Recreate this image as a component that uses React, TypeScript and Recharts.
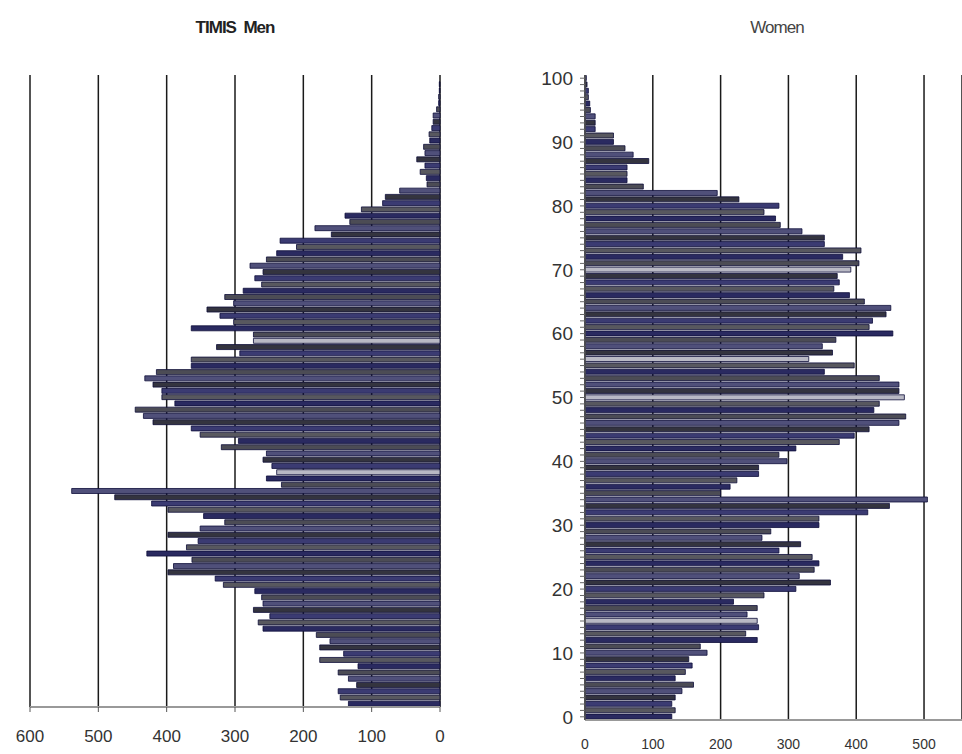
import { BarChart, Bar, XAxis, YAxis, CartesianGrid, Cell } from "recharts";

// single years of age, bottom (0) to top (100)
const AGES = Array.from({ length: 101 }, (_, i) => i);

// persons per single year of age
const MEN = [
  134, 146, 149, 122, 134, 149, 120, 176, 141, 176,
  161, 181, 259, 266, 249, 273, 259, 261, 271, 317,
  329, 398, 390, 363, 429, 371, 354, 398, 351, 315,
  346, 398, 422, 476, 539, 232, 254, 239, 246, 259,
  254, 320, 295, 351, 364, 420, 434, 446, 388, 407,
  407, 420, 432, 415, 364, 364, 293, 327, 273, 273,
  364, 302, 322, 341, 302, 315, 288, 261, 271, 259,
  278, 254, 239, 210, 234, 159, 183, 132, 139, 115,
  84, 80, 59, 19, 20, 29, 22, 34, 22, 24,
  15, 16, 12, 10, 10, 5, 2, 2, 1, 1,
  0,
];

const WOMEN = [
  128, 133, 128, 133, 143, 160, 133, 148, 158, 153,
  180, 170, 254, 237, 256, 254, 239, 254, 219, 264,
  311, 362, 316, 338, 345, 335, 286, 318, 261, 274,
  345, 345, 417, 449, 505, 200, 214, 224, 256, 256,
  298, 286, 311, 375, 397, 419, 463, 473, 426, 434,
  471, 463, 463, 434, 353, 397, 330, 365, 350, 370,
  454, 419, 424, 444, 451, 412, 390, 367, 375, 372,
  392, 404, 380, 407, 353, 353, 320, 288, 281, 264,
  286, 227, 195, 86, 62, 62, 62, 94, 71, 59,
  42, 42, 15, 15, 15, 8, 7, 5, 5, 3,
  2,
];

const MEN_TICKS = [0, 100, 200, 300, 400, 500, 600];
const WOMEN_TICKS = [0, 100, 200, 300, 400, 500];

// rows that come out pale in the scan
const LIGHT_MEN = [58, 37];
const LIGHT_WOMEN = [70, 56, 50, 15];

const FILLS = ["#2a2a60", "#58585f", "#3b3b72", "#34343f", "#50507a", "#4c4c55"];
const FONT = '"Liberation Sans", Arial, sans-serif';

const menData = AGES.map((age, i) => ({ age, value: MEN[i] }));
const womenData = AGES.map((age, i) => ({ age, value: WOMEN[i] }));

const fillFor = (age: number, light: number[]) =>
  light.includes(age) ? "#b9b9c4" : FILLS[age % FILLS.length];

const MenTick = (props: any) => {
  const { x, y, payload } = props;
  return (
    <text x={x} y={y} dy="0.71em" textAnchor="middle" fontSize={17} fill="#333" fontFamily={FONT}>
      {payload.value}
    </text>
  );
};

const WomenTick = (props: any) => {
  const { x, y, payload } = props;
  return (
    <text x={x} y={y} dy="0.71em" textAnchor="middle" fontSize={14} fill="#333" fontFamily={FONT}>
      {payload.value}
    </text>
  );
};

const AgeTick = (props: any) => {
  const { x, y, payload } = props;
  if (payload.value % 10 !== 0) return <g />;
  return (
    <text x={x} y={y} dy="0.36em" textAnchor="end" fontSize={19} fill="#333" fontFamily={FONT}>
      {payload.value}
    </text>
  );
};

const titleStyle = {
  position: "absolute" as const,
  top: 18,
  width: 200,
  textAlign: "center" as const,
  fontFamily: FONT,
  fontSize: 17,
  letterSpacing: -1,
  color: "#222",
};

export default function App() {
  return (
    <div
      style={{
        position: "absolute",
        left: 0,
        top: 0,
        width: 962,
        height: 754,
        overflow: "hidden",
        background: "#fff",
      }}
    >
      <div style={{ ...titleStyle, left: 135, fontWeight: "bold" }}>TIMIS&nbsp; Men</div>
      <div style={{ ...titleStyle, left: 677, color: "#444" }}>Women</div>

      <div style={{ position: "absolute", left: 0, top: 0 }}>
        <BarChart
          width={460}
          height={754}
          data={menData}
          layout="vertical"
          margin={{ top: 75, right: 20, bottom: 7, left: 30 }}
          barCategoryGap="8%"
        >
          <CartesianGrid horizontal={false} stroke="#1a1a1a" strokeWidth={1.5} />
          <XAxis
            type="number"
            domain={[0, 600]}
            ticks={MEN_TICKS}
            reversed
            height={40}
            axisLine={{ stroke: "#999", strokeWidth: 2 }}
            tickLine={{ stroke: "#555" }}
            tickSize={5}
            tickMargin={18}
            tick={<MenTick />}
          />
          <YAxis type="category" dataKey="age" reversed hide />
          <Bar dataKey="value" isAnimationActive={false} stroke="#0c0c38" strokeWidth={0.8}>
            {menData.map((d) => (
              <Cell key={`m-${d.age}`} fill={fillFor(d.age, LIGHT_MEN)} />
            ))}
          </Bar>
        </BarChart>
      </div>

      <div style={{ position: "absolute", left: 500, top: 0 }}>
        <BarChart
          width={462}
          height={754}
          data={womenData}
          layout="vertical"
          margin={{ top: 75, right: 0, bottom: 4, left: 25 }}
          barCategoryGap="8%"
        >
          <CartesianGrid horizontal={false} stroke="#1a1a1a" strokeWidth={1.5} />
          <XAxis
            type="number"
            domain={[0, 556]}
            ticks={WOMEN_TICKS}
            height={30}
            axisLine={{ stroke: "#999", strokeWidth: 2 }}
            tickLine={false}
            tickSize={6}
            tickMargin={13}
            tick={<WomenTick />}
          />
          <YAxis
            type="category"
            dataKey="age"
            reversed
            width={60}
            interval={0}
            axisLine={{ stroke: "#555", strokeWidth: 1.5 }}
            tickLine={{ stroke: "#666" }}
            tickSize={5}
            tickMargin={7}
            tick={<AgeTick />}
          />
          <Bar dataKey="value" isAnimationActive={false} stroke="#0c0c38" strokeWidth={0.8}>
            {womenData.map((d) => (
              <Cell key={`w-${d.age}`} fill={fillFor(d.age, LIGHT_WOMEN)} />
            ))}
          </Bar>
        </BarChart>
      </div>
    </div>
  );
}
